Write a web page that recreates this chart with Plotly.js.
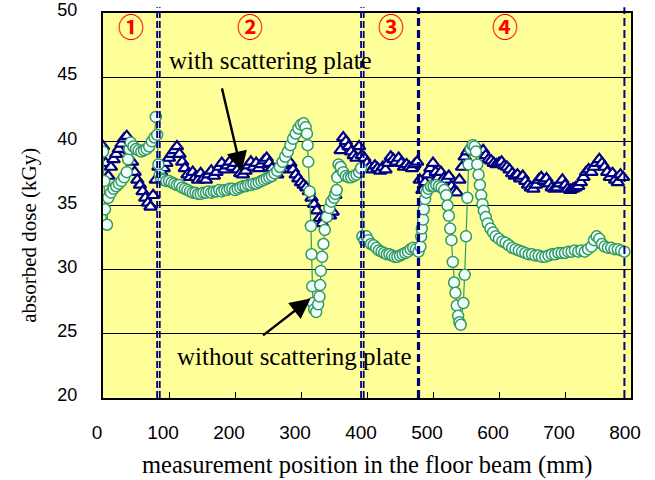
<!DOCTYPE html>
<html>
<head>
<meta charset="utf-8">
<script src="https://cdn.plot.ly/plotly-3.0.1.min.js"></script>
<style>html,body{margin:0;padding:0;background:#fff;}#chart{width:655px;height:480px;}</style>
</head>
<body>
<div id="chart"></div>
<script>
// ---- data: with scattering plate (triangles) ----
const triX = [
  0,4,8,12,16,20,24,28,32,36,
  40,44,48,52,56,60,64,68,72,76,
  80,84,
  88,92,96,100,104,108,112,116,120,124,
  128,132,136,140,144,148,152,156,160,164,
  168,172,176,180,184,188,192,196,200,204,
  208,212,216,220,224,228,232,236,240,244,
  248,252,256,260,264,268,272,276,280,284,
  288,292,296,300,304,308,312,316,320,324,
  328,332,336,340,344,348,352,356,360,364,
  368,372,376,380,384,388,392,396,
  400,404,408,412,416,420,424,428,432,436,
  440,444,448,452,456,460,464,468,472,476,
  480,484,488,492,496,500,504,508,512,516,
  520,524,528,532,536,540,544,548,552,556,
  560,564,568,572,576,580,584,588,592,596,
  600,604,608,612,616,620,624,628,632,636,
  640,644,648,652,656,660,664,668,672,676,
  680,684,688,692,696,700,704,708,712,716,
  720,724,728,732,736,740,744,748,752,756,
  760,764,768,772,776,780,784,788
];
const triY = [
  39.6,38.3,37.3,38.0,38.6,39.0,39.4,39.8,40.2,40.4,
  39.3,38.4,37.6,37.0,36.6,36.1,35.6,35.2,34.9,35.8,
  37.0,38.0,
  37.6,37.9,38.3,38.7,39.0,39.3,39.6,39.0,38.4,37.9,
  37.4,37.2,37.6,37.2,37.0,37.5,37.1,37.0,37.4,37.7,
  37.3,37.6,38.0,38.3,37.8,38.1,38.4,38.0,38.3,37.8,
  37.5,37.4,37.7,38.1,38.4,38.0,38.3,37.9,38.2,38.5,
  38.7,38.3,37.9,37.6,37.4,37.8,38.1,38.4,38.2,38.3,
  37.8,37.4,37.1,36.8,36.6,36.4,36.1,35.6,35.1,34.6,
  34.0,33.6,34.1,34.3,34.2,34.5,35.8,37.4,39.3,40.3,
  40.0,39.6,39.2,38.9,38.7,39.6,38.9,38.7,
  38.3,38.0,37.8,38.1,37.9,37.7,38.0,37.8,38.3,38.8,
  38.6,38.4,38.7,38.3,38.0,38.2,38.0,37.9,38.2,38.4,
  37.0,36.2,36.8,37.4,37.9,38.3,37.6,37.2,37.6,37.1,
  37.0,37.3,36.5,36.1,36.0,37.0,38.0,38.8,39.2,39.5,
  39.3,39.6,39.4,39.2,39.3,38.9,38.6,38.5,38.3,38.2,
  38.3,38.4,38.1,38.0,37.8,37.5,37.3,37.4,37.1,37.3,
  36.9,36.6,36.4,36.3,36.6,37.0,37.2,36.9,37.1,36.7,
  36.4,36.3,36.4,36.7,37.0,36.6,36.3,36.2,36.3,36.4,
  36.5,36.8,37.2,37.6,37.8,37.6,38.0,38.3,38.6,38.3,
  38.0,37.6,37.2,37.5,37.0,36.8,37.4,37.2
];
// ---- data: without scattering plate (circles) ----
const cirX = [
  0,2,3,6,8,12,16,20,24,28,
  32,36,38,40,42,46,50,54,58,62,
  66,70,74,78,80,82,84,86,
  88,92,96,100,104,108,112,116,120,124,
  128,132,136,140,144,148,152,156,160,164,
  168,172,176,180,184,188,192,196,200,204,
  208,212,216,220,224,228,232,236,240,244,
  248,252,256,260,264,268,272,276,280,284,
  288,292,296,300,304,307,309,310,311,313,
  315,316,317,318,320,323,326,328,329,330,
  332,334,336,339,343,346,350,352,354,355,
  357,360,364,368,372,376,380,384,388,391,
  393,396,399,402,406,410,414,418,422,426,
  430,434,438,442,446,450,454,458,462,466,
  470,474,478,
  481,482,483,485,486,488,490,493,497,501,
  505,509,513,517,520,522,524,526,528,530,
  532,534,536,538,540,542,546,548,550,552,
  554,557,560,563,565,567,569,571,573,575,
  577,580,583,587,591,595,600,605,610,615,
  620,625,630,635,640,645,650,655,660,665,
  670,675,680,685,690,695,700,705,710,715,
  720,725,730,735,740,744,748,752,756,760,
  765,770,775,780,785,790
];
const cirY = [
  39.2,36.9,34.7,33.5,35.6,36.0,36.3,36.5,36.7,36.9,
  37.2,37.6,38.6,39.4,39.9,39.6,39.4,39.3,39.2,39.3,
  39.4,39.6,40.0,40.3,41.9,40.5,38.2,37.4,
  37.1,37.0,36.9,36.9,36.8,36.7,36.6,36.6,36.4,36.3,
  36.2,36.1,36.0,36.0,35.9,35.9,36.0,36.0,36.1,36.0,
  36.1,36.1,36.2,36.1,36.2,36.2,36.3,36.3,36.2,36.3,
  36.4,36.5,36.5,36.6,36.6,36.7,36.7,36.8,36.9,37.0,
  37.1,37.2,37.3,37.5,37.7,38.0,38.4,38.8,39.2,39.7,
  40.2,40.6,41.0,41.3,41.4,41.1,40.6,39.7,38.4,36.1,
  33.4,31.2,28.7,27.4,26.9,26.7,27.3,27.9,28.8,29.9,
  31.0,32.0,33.1,34.1,34.8,35.3,35.6,35.9,36.2,37.2,
  38.2,38.0,37.6,37.3,37.2,37.2,37.3,37.4,37.6,37.9,
  32.6,32.3,32.6,32.3,32.0,31.9,31.7,31.5,31.4,31.3,
  31.2,31.2,31.1,31.0,31.0,31.1,31.2,31.3,31.4,31.6,
  31.7,31.6,31.4,
  31.8,32.6,33.2,33.9,34.7,35.5,36.0,36.3,36.5,36.5,
  36.6,36.5,36.4,36.2,35.8,35.0,34.2,33.2,32.3,30.6,
  29.0,28.2,27.2,26.4,25.9,25.7,27.4,29.6,32.6,35.6,
  38.2,39.4,39.7,39.6,39.2,38.2,37.4,36.6,35.8,35.1,
  34.6,34.1,33.6,33.2,32.9,32.6,32.4,32.2,32.1,31.9,
  31.7,31.6,31.5,31.4,31.3,31.2,31.2,31.1,31.1,31.0,
  31.0,31.1,31.2,31.2,31.3,31.3,31.3,31.4,31.4,31.5,
  31.4,31.5,31.4,31.6,31.8,32.3,32.6,32.4,32.0,31.8,
  31.7,31.7,31.6,31.6,31.5,31.4
];
// boundaries between zones (mm)
const zoneLinesThin = [82, 86, 391, 395];
const zoneLineThick = [478];
const zoneLineEnd = [790];
const zoneLabels = ['①','②','③','④'];
const zoneLabelX = [42, 222, 436, 609];
const xTicks = [0,100,200,300,400,500,600,700,800];
const yTicks = [20,25,30,35,40,45,50];

const traces = [
  {
    x: triX, y: triY, type: 'scatter', mode: 'markers', name: 'with scattering plate',
    marker: {symbol: 'triangle-up', size: 11, color: '#FFFFFF', line: {color: '#000080', width: 2.2}},
    hoverinfo: 'x+y'
  },
  {
    x: cirX, y: cirY, type: 'scatter', mode: 'lines+markers', name: 'without scattering plate',
    line: {color: '#339966', width: 1.2},
    marker: {symbol: 'circle', size: 11, color: '#F2FFFA', line: {color: '#339966', width: 1.5}},
    hoverinfo: 'x+y'
  }
];

const shapes = [];
zoneLinesThin.forEach(v => shapes.push({type:'line', xref:'x', yref:'paper', x0:v, x1:v, y0:0, y1:1.015,
  line:{color:'#000080', width:1.8, dash:'7px,3px'}}));
zoneLineThick.forEach(v => shapes.push({type:'line', xref:'x', yref:'paper', x0:v, x1:v, y0:0, y1:1.015,
  line:{color:'#000080', width:3.2, dash:'8px,4px'}}));
zoneLineEnd.forEach(v => shapes.push({type:'line', xref:'x', yref:'paper', x0:v, x1:v, y0:0, y1:1.015,
  line:{color:'#000080', width:2, dash:'8px,4px'}}));

const serif = 'Liberation Serif, Times New Roman, serif';
const annotations = [];
zoneLabels.forEach((t, i) => annotations.push({
  x: zoneLabelX[i], y: 49.0, xref: 'x', yref: 'y', text: '<b>' + t + '</b>', showarrow: false,
  font: {family: 'Noto Sans CJK JP, sans-serif', size: 26, color: '#FF0000'}
}));
annotations.push({x: 254, y: 46.3, xref:'x', yref:'y', text:'with scattering plate', showarrow:false,
  font:{family: serif, size: 25, color:'#000'}});
annotations.push({x: 290, y: 23.25, xref:'x', yref:'y', text:'without scattering plate', showarrow:false,
  font:{family: serif, size: 25, color:'#000'}});
annotations.push({x: 210, y: 37.62, xref:'x', yref:'y', text:'', showarrow:true,
  ax: -20, ay: -85, arrowhead: 2, arrowsize: 1.7, arrowwidth: 2.4, arrowcolor:'#000'});
annotations.push({x: 314.5, y: 27.75, xref:'x', yref:'y', text:'', showarrow:true,
  ax: -49, ay: 38, arrowhead: 2, arrowsize: 1.7, arrowwidth: 2.4, arrowcolor:'#000'});
annotations.push({x: 0.5, y: -0.174, xref:'paper', yref:'paper', text:'measurement position in the floor beam (mm)',
  showarrow:false, yanchor:'middle', font:{family: serif, size: 24.5, color:'#000'}});
annotations.push({x: -0.139, y: 0.423, xref:'paper', yref:'paper', text:'absorbed dose (kGy)', textangle: -90,
  showarrow:false, xanchor:'center', yanchor:'middle', font:{family: serif, size: 21, color:'#000'}});

const layout = {
  width: 655, height: 480,
  margin: {l: 103, r: 24, t: 13, b: 82, pad: 0},
  paper_bgcolor: '#FFFFFF', plot_bgcolor: '#FFFF99',
  showlegend: false,
  xaxis: {
    range: [0, 800], tickvals: xTicks, ticktext: xTicks.map(String),
    ticks: 'inside', ticklen: 6, tickwidth: 1, tickcolor: '#000',
    showline: true, linecolor: '#000', linewidth: 2, mirror: true,
    showgrid: false, zeroline: false,
    tickfont: {family: 'Liberation Sans, Arial, sans-serif', size: 19, color: '#000'},
    ticklabelstandoff: 16, ticklabelshift: -6
  },
  yaxis: {
    range: [20, 50], tickvals: yTicks, ticktext: yTicks.map(String),
    ticks: '', showgrid: true, gridcolor: '#000', gridwidth: 1,
    showline: true, linecolor: '#000', linewidth: 2, mirror: true, zeroline: false,
    tickfont: {family: 'Liberation Sans, Arial, sans-serif', size: 18, color: '#000'},
    ticklabelstandoff: 20, ticklabelshift: -3
  },
  shapes: shapes,
  annotations: annotations
};

Plotly.newPlot('chart', traces, layout, {displayModeBar: false, staticPlot: true});
</script>
</body>
</html>
